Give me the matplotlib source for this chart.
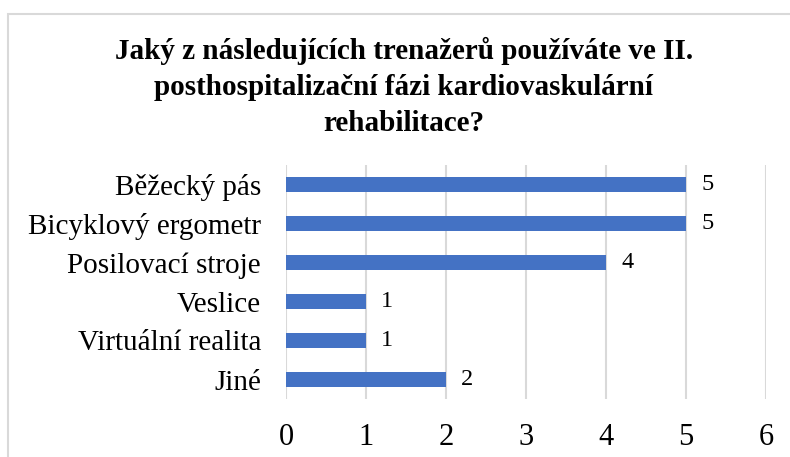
import matplotlib
matplotlib.use("Agg")
import matplotlib.pyplot as plt
from matplotlib.patches import Rectangle

categories = ["Běžecký pás", "Bicyklový ergometr", "Posilovací stroje", "Veslice", "Virtuální realita", "Jiné"]
values = [5, 5, 4, 1, 1, 2]
xticks = [0, 1, 2, 3, 4, 5, 6]
title = "Jaký z následujících trenažerů používáte ve II.\nposthospitalizační fázi kardiovaskulární\nrehabilitace?"

plt.rcParams['font.family'] = ['Liberation Serif', 'DejaVu Serif']

W, H = 790, 457
fig = plt.figure(figsize=(W/100, H/100), dpi=100)

# chart border
fig.patches.append(Rectangle((8/W, -0.1), 1.2, 1 - 14/H + 0.1, transform=fig.transFigure,
                             fill=False, edgecolor="#D9D9D9", linewidth=1.5))

ax = fig.add_axes([286/W, 1 - 399/H, (766-286)/W, (399-165)/H])
ypos = list(range(len(categories)))
ax.barh(ypos, values, height=0.36, color="#4472C4", zorder=3)
ax.set_ylim(len(categories) - 0.5, -0.5)
ax.set_xlim(0, 6)
ax.set_xticks(xticks)
ax.set_xticklabels([str(t) for t in xticks], fontsize=22)
ax.set_yticks(ypos)
ax.set_yticklabels(categories, fontsize=21)
ax.tick_params(axis='x', length=0, pad=17)
ax.tick_params(axis='y', length=0, pad=18)
ax.grid(axis='x', color="#D9D9D9", linewidth=1.5, zorder=0)
for s in ax.spines.values():
    s.set_visible(False)

for y, v in zip(ypos, values):
    ax.annotate(str(v), (v, y), xytext=(11, 0), textcoords="offset points",
                ha="left", va="center", fontsize=17.5, color="#000000")

fig.text(404/W, 1 - 37/H, title, ha="center", va="top", fontsize=21, fontweight="bold",
         linespacing=1.42)

fig.savefig("out.png", dpi=100)
